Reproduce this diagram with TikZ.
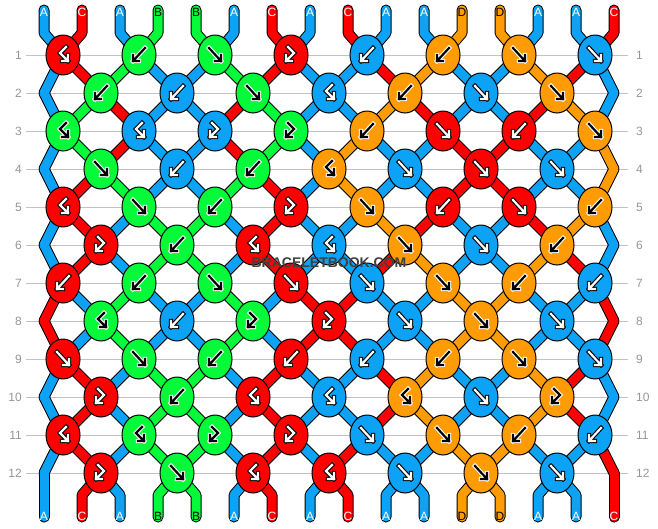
\documentclass[tikz,border=0pt]{standalone}
\usepackage{fontspec}
\setmainfont{Liberation Sans}
\usetikzlibrary{shapes.geometric}

\definecolor{strA}{RGB}{12,163,247}
\definecolor{strB}{RGB}{5,250,58}
\definecolor{strC}{RGB}{255,0,0}
\definecolor{strD}{RGB}{255,155,5}
\definecolor{rowgray}{RGB}{150,150,150}
\definecolor{linegray}{RGB}{195,195,195}

% knot symbols: f, b, bf, fb
\def\kpf{(-6,-7) -- (6,6) (6,0) -- (6,6) -- (0,6)}
\def\kpb{(6,-7) -- (-6,6) (-6,0) -- (-6,6) -- (0,6)}
\def\kpbf{(3,-8) -- (-3,-2) -- (5,6) (5,0) -- (5,6) -- (-1,6)}
\def\kpfb{(-3,-8) -- (3,-2) -- (-5,6) (-5,0) -- (-5,6) -- (1,6)}

\tikzset{
  pics/knoticon/.style 2 args={code={
    \draw[iconrim, rim#1] \csname kp#2\endcsname;
    \draw[iconink, ink#1] \csname kp#2\endcsname;
  }},
  rimA/.style={draw=black}, inkA/.style={draw=white}, txtA/.style={text=white},
  rimB/.style={draw=white}, inkB/.style={draw=black}, txtB/.style={text=black},
  rimC/.style={draw=black}, inkC/.style={draw=white}, txtC/.style={text=white},
  rimD/.style={draw=white}, inkD/.style={draw=black}, txtD/.style={text=black}
}

\begin{document}
\begin{tikzpicture}[x=1pt, y=-1pt,
    knot/.style={ellipse, draw=black, line width=1pt, minimum width=34pt, minimum height=40pt, inner sep=0pt},
    stredge/.style={draw=black, line width=11pt, line cap=round, line join=round},
    strfill/.style={draw=#1, line width=9pt, line cap=round, line join=round},
    iconrim/.style={line width=4.4pt, line cap=rect, line join=miter},
    iconink/.style={line width=2.2pt, line cap=rect, line join=miter},
    rownum/.style={text=rowgray, font=\fontsize{12}{12}\selectfont, inner sep=0pt},
    rowline/.style={draw=linegray, line width=1pt},
    tag/.style={font=\fontsize{12}{12}\selectfont, inner sep=0pt} ]

    \useasboundingbox (0,0) rectangle (658,528);

    %Row numbers and guide lines
    \foreach \r in {1,...,12}{
      \node[rownum, anchor=east] (rl-\r) at (22, {55+38*(\r-1)}) {\r};
      \node[rownum, anchor=west] (rr-\r) at (636, {55+38*(\r-1)}) {\r};
      \draw[rowline] ([xshift=4pt]rl-\r.east) -- ([xshift=-8pt]rr-\r.west);
    }

    %Coordinates
    \foreach \p in {0,...,15}{
      \coordinate (top-\p) at ({44+38*\p}, 10);
      \coordinate (tbend-\p) at ({44+38*\p}, 33);
      \coordinate (bbend-\p) at ({44+38*\p}, 495);
      \coordinate (bot-\p) at ({44+38*\p}, 517);
    }
    \foreach \r in {1,...,12}{
      \foreach \p in {0,...,15}{
        \ifodd\r\relax
          \pgfmathtruncatemacro\kx{63+76*int(\p/2)}
        \else
          \pgfmathtruncatemacro\kx{\p==0 ? 44 : (\p==15 ? 614 : 101+76*int((\p-1)/2))}
        \fi
        \coordinate (s-\r-\p) at (\kx, {55+38*(\r-1)});
      }
    }

    %Strings
    \foreach \pass in {stredge, strfill}{
      \foreach \c [count=\p from 0] in {A,C,A,B,B,A,C,A,C,A,A,D,D,A,A,C}
        \draw[\pass=str\c] (top-\p) -- (tbend-\p) -- (s-1-\p);
      \foreach \r/\st in {
          1/{A,C,B,A,A,B,C,A,A,C,D,A,A,D,C,A},
          2/{A,B,C,A,A,C,B,A,A,D,C,A,A,C,D,A},
          3/{A,B,C,A,A,C,B,A,D,A,A,C,C,A,A,D},
          4/{A,C,B,A,A,B,C,A,D,A,A,C,C,A,A,D},
          5/{A,C,A,B,B,A,C,A,A,D,C,A,A,C,D,A},
          6/{A,C,A,B,B,A,C,A,A,C,D,A,A,D,C,A},
          7/{C,A,B,A,A,B,A,C,C,A,A,D,D,A,A,C},
          8/{C,A,B,A,A,B,A,C,C,A,A,D,D,A,A,C},
          9/{A,C,A,B,B,A,C,A,A,C,D,A,A,D,C,A},
          10/{A,C,A,B,B,A,C,A,A,C,D,A,A,D,C,A},
          11/{A,C,A,B,B,A,C,A,C,A,A,D,D,A,A,C}}{
        \pgfmathtruncatemacro\rr{\r+1}
        \foreach \c [count=\p from 0] in \st
          \draw[\pass=str\c] (s-\r-\p) -- (s-\rr-\p);
      }
      \foreach \c [count=\p from 0] in {A,C,A,B,B,A,C,A,C,A,A,D,D,A,A,C}
        \draw[\pass=str\c] (s-12-\p) -- (bbend-\p) -- (bot-\p);
    }

    %Knots
    \foreach \r/\kl in {
        1/{C/bf,B/b,B/f,C/fb,A/b,D/b,D/f,A/f},
        2/{B/b,A/b,B/f,A/bf,D/b,A/f,D/f},
        3/{B/bf,A/bf,A/fb,B/fb,D/b,C/f,C/b,D/f},
        4/{B/f,A/b,B/b,D/bf,A/f,C/f,A/f},
        5/{C/bf,B/f,B/b,C/fb,D/f,C/b,C/f,D/b},
        6/{C/fb,B/b,C/bf,A/bf,D/f,A/f,D/b},
        7/{C/b,B/b,B/f,C/f,A/f,D/f,D/b,A/b},
        8/{B/bf,A/b,B/fb,C/fb,A/f,D/f,A/f},
        9/{C/f,B/f,B/b,C/b,A/b,D/b,D/f,A/f},
        10/{C/fb,B/b,C/bf,A/bf,D/bf,A/f,D/fb},
        11/{C/bf,B/bf,B/fb,C/fb,A/f,D/f,D/b,A/b},
        12/{C/fb,B/f,C/bf,C/bf,A/f,D/f,A/f}}{
      \ifodd\r\relax \def\xo{63}\else \def\xo{101}\fi
      \foreach \c/\t [count=\i] in \kl {
        \node[knot, fill=str\c] (knot-\r-\i) at ({\xo+76*(\i-1)}, {55+38*(\r-1)}) {};
        \pic at (knot-\r-\i) {knoticon={\c}{\t}};
      }
    }

    %Labels
    \foreach \c [count=\p from 0] in {A,C,A,B,B,A,C,A,C,A,A,D,D,A,A,C}{
      \node[tag, txt\c] (in-\p) at ({44+38*\p}, 12.5) {\c};
      \node[tag, txt\c] (out-\p) at ({44+38*\p}, 516.5) {\c};
    }
    \node[text=black!75, font=\fontsize{14}{14}\bfseries\selectfont, inner sep=0pt] (mark) at (329,263) {BRACELETBOOK.COM};
\end{tikzpicture}
\end{document}
